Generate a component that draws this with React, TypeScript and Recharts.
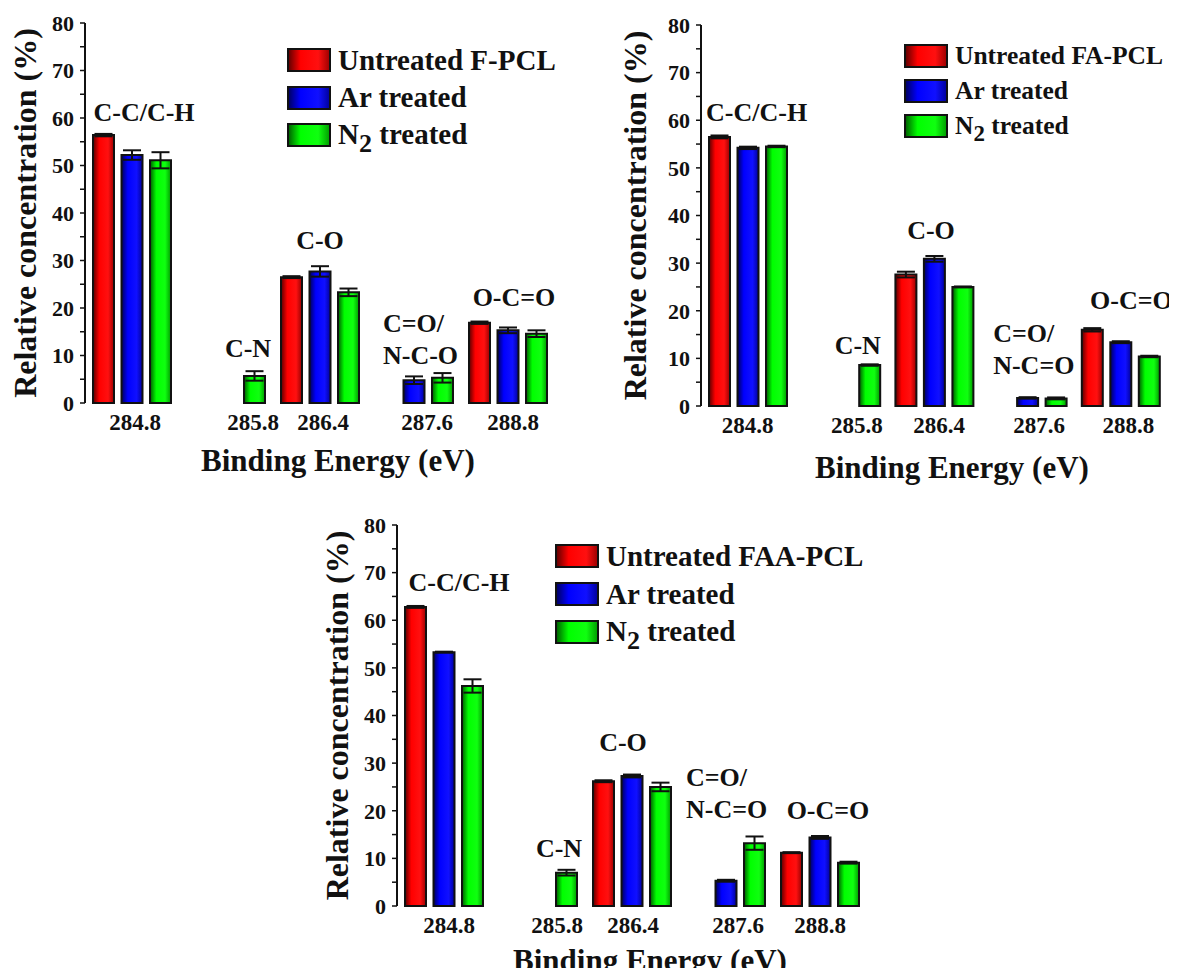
import React from 'react';
import { BarChart, Bar, XAxis, YAxis, ErrorBar, Legend, ReferenceDot, Label } from 'recharts';

const FONT = 'Liberation Serif';

const categories = ['284.8', '285.8', '286.4', '287.6', '288.8'];

// F-PCL
const fpclUntreated = [56.4, null, 26.5, null, 16.9];
const fpclUntreatedErr = [0.25, null, 0.2, null, 0.25];
const fpclAr = [52.2, null, 27.7, 4.8, 15.3];
const fpclArErr = [1.0, null, 1.1, 0.8, 0.6];
const fpclN2 = [51.1, 5.7, 23.3, 5.3, 14.6];
const fpclN2Err = [1.7, 1.0, 0.8, 1.0, 0.7];

// FA-PCL
const fapclUntreated = [56.5, null, 27.6, null, 16.0];
const fapclUntreatedErr = [0.3, null, 0.6, null, 0.35];
const fapclAr = [54.2, null, 30.9, 1.7, 13.4];
const fapclArErr = [0.25, null, 0.6, 0.15, 0.2];
const fapclN2 = [54.5, 8.6, 25.0, 1.6, 10.4];
const fapclN2Err = [0.15, 0.15, 0.1, 0.2, 0.15];

// FAA-PCL
const faapclUntreated = [62.8, null, 26.2, null, 11.2];
const faapclUntreatedErr = [0.2, null, 0.2, null, 0.1];
const faapclAr = [53.3, null, 27.3, 5.3, 14.4];
const faapclArErr = [0.1, null, 0.3, 0.2, 0.3];
const faapclN2 = [46.2, 7.0, 25.0, 13.2, 9.1];
const faapclN2Err = [1.4, 0.6, 0.9, 1.4, 0.2];

const yTicks = [0, 5, 10, 15, 20, 25, 30, 35, 40, 45, 50, 55, 60, 65, 70, 75, 80];
const rightTicks = [8, 16, 24, 32, 40, 48, 56, 64, 72];

const barColors = [
  ['#5a0000', '#ff0000', '#ff1010', '#9a0000'],
  ['#00005a', '#0000ff', '#1010ff', '#00009a'],
  ['#005a00', '#00ff00', '#10ff10', '#009a00'],
];

const buildRows = (u, ue, a, ae, n, ne) =>
  categories.map((c, i) => ({
    cat: c,
    pos: i + 0.5,
    u: u[i], ue: ue[i],
    a: a[i], ae: ae[i],
    n: n[i], ne: ne[i],
  }));

const panels = [
  {
    id: 'p1',
    sample: 'Untreated F-PCL',
    rows: buildRows(fpclUntreated, fpclUntreatedErr, fpclAr, fpclArErr, fpclN2, fpclN2Err),
    left: 85, top: 23, w: 488, h: 380,
    tickDx: [3, 27, 3, 13, 5],
    yTitleDx: 60,
    xTitleDy: 57,
    legend: { x: 202, y: 37, row: 37.5, font: 29 },
    notes: [
      { i: 0, y: 61.3, dx: 12, lines: ['C-C/C-H'] },
      { i: 1, y: 11.6, dx: 22, lines: ['C-N'] },
      { i: 2, y: 34.3, dx: 0, lines: ['C-O'] },
      { i: 3, y: 16.8, dx: -31, lines: ['C=O/', 'N-C-O'], start: true },
      { i: 4, y: 22.3, dx: 6, lines: ['O-C=O'] },
    ],
  },
  {
    id: 'p2',
    sample: 'Untreated FA-PCL',
    rows: buildRows(fapclUntreated, fapclUntreatedErr, fapclAr, fapclArErr, fapclN2, fapclN2Err),
    left: 701, top: 25, w: 484, h: 381,
    tickDx: [0, 16, 5, 12, 8],
    yTitleDx: 66,
    xTitleDy: 61,
    legend: { x: 203, y: 31, row: 35, font: 25.5 },
    notes: [
      { i: 0, y: 61.7, dx: 9, lines: ['C-C/C-H'] },
      { i: 1, y: 12.8, dx: 17, lines: ['C-N'] },
      { i: 2, y: 37.0, dx: -3, lines: ['C-O'] },
      { i: 3, y: 15.3, dx: -34, lines: ['C=O/', 'N-C=O'], start: true },
      { i: 4, y: 22.3, dx: 11, lines: ['O-C=O'] },
    ],
  },
  {
    id: 'p3',
    sample: 'Untreated FAA-PCL',
    rows: buildRows(faapclUntreated, faapclUntreatedErr, faapclAr, faapclArErr, faapclN2, faapclN2Err),
    left: 397, top: 525, w: 488, h: 381,
    tickDx: [5, 19, 1, 12, 0],
    yTitleDx: 60,
    xTitleDy: 54,
    legend: { x: 158, y: 31, row: 38, font: 29 },
    notes: [
      { i: 0, y: 68.0, dx: 15, lines: ['C-C/C-H'] },
      { i: 1, y: 12.2, dx: 21, lines: ['C-N'] },
      { i: 2, y: 34.4, dx: -9, lines: ['C-O'] },
      { i: 3, y: 27.1, dx: -40, lines: ['C=O/', 'N-C=O'], start: true },
      { i: 4, y: 20.2, dx: 8, lines: ['O-C=O'] },
    ],
  },
];

const ML = 85; // room for y axis + title
const MT = 20;
const MR = 10;
const XH = 80;

function CatTick({ x, y, payload, index, offsets }) {
  return (
    <text x={x + offsets[index]} y={y + 25} textAnchor="middle" fontSize={23} fontFamily={FONT} fontWeight="bold" fill="#111">
      {payload.value}
    </text>
  );
}

function LegendBox({ sample, id, row, font }) {
  const names = [sample, 'Ar treated', null];
  return (
    <div style={{ fontFamily: FONT, fontWeight: 'bold', fontSize: font, color: '#111', lineHeight: 1 }}>
      {names.map((nm, i) => (
        <div key={i} style={{ display: 'flex', alignItems: 'center', height: row, whiteSpace: 'nowrap' }}>
          <svg width={44} height={24} style={{ display: 'block' }}>
            <rect x={1} y={1} width={42} height={22} fill={`url(#${id}-g${i})`} stroke="#111" strokeWidth={2} />
          </svg>
          <span style={{ marginLeft: 7 }}>
            {nm !== null ? nm : (
              <>N<span style={{ fontSize: '0.9em', position: 'relative', top: '0.3em' }}>2</span> treated</>
            )}
          </span>
        </div>
      ))}
    </div>
  );
}

function Panel({ p }) {
  const W = ML + p.w + MR;
  const H = MT + p.h + XH;
  return (
    <div style={{ position: 'absolute', left: p.left - ML, top: p.top - MT, fontFamily: FONT }}>
      <BarChart
        width={W}
        height={H}
        data={p.rows}
        margin={{ top: MT, right: MR, bottom: 0, left: 0 }}
        barSize={21}
        barGap={7.5}
      >
        <defs>
          {barColors.map((c, i) => (
            <linearGradient key={i} id={`${p.id}-g${i}`} x1="0" y1="0" x2="1" y2="0">
              <stop offset="0%" stopColor={c[0]} />
              <stop offset="30%" stopColor={c[1]} />
              <stop offset="72%" stopColor={c[2]} />
              <stop offset="100%" stopColor={c[3]} />
            </linearGradient>
          ))}
        </defs>
        <XAxis
          xAxisId="bd"
          dataKey="pos"
          type="number"
          domain={[0, 5]}
          ticks={[1, 2, 3, 4, 5]}
          padding={{ left: 0, right: 18 }}
          height={0}
          tick={false}
          tickSize={6}
          allowDataOverflow
          axisLine={{ stroke: '#111', strokeWidth: 2 }}
          tickLine={{ stroke: '#111', strokeWidth: 2 }}
        />
        <XAxis
          xAxisId="cat"
          dataKey="cat"
          height={XH}
          padding={{ left: 0, right: 18 }}
          axisLine={false}
          tickLine={false}
          tickSize={0}
          interval={0}
          tick={(props) => <CatTick {...props} offsets={p.tickDx} />}
        >
          <Label
            content={({ viewBox }) => (
              <text
                x={viewBox.x + (viewBox.width + 18) / 2}
                y={viewBox.y + p.xTitleDy}
                textAnchor="middle"
                dominantBaseline="central"
                fontSize={31}
                fontFamily={FONT}
                fontWeight="bold"
                fill="#111"
              >
                Binding Energy (eV)
              </text>
            )}
          />
        </XAxis>
        <XAxis
          xAxisId="top"
          orientation="top"
          dataKey="pos"
          type="number"
          domain={[0, 5]}
          ticks={[1, 2, 3, 4]}
          height={0}
          mirror
          tick={false}
          tickSize={5}
          allowDataOverflow
          axisLine={{ stroke: '#111', strokeWidth: 2 }}
          tickLine={{ stroke: '#111', strokeWidth: 1.5 }}
        />
        <YAxis
          yAxisId="l"
          width={ML}
          domain={[0, 80]}
          ticks={yTicks}
          interval={0}
          tickSize={5}
          tickMargin={6}
          tickFormatter={(v) => (v % 10 === 0 ? String(v) : '')}
          tick={{ fontSize: 22, fontFamily: FONT, fontWeight: 'bold', fill: '#111' }}
          axisLine={{ stroke: '#111', strokeWidth: 2 }}
          tickLine={{ stroke: '#111', strokeWidth: 1.5 }}
        >
          <Label
            content={({ viewBox }) => {
              const cx = viewBox.x + viewBox.width - p.yTitleDx;
              const cy = viewBox.y + viewBox.height / 2;
              return (
                <text
                  x={cx}
                  y={cy}
                  transform={`rotate(-90 ${cx} ${cy})`}
                  textAnchor="middle"
                  dominantBaseline="central"
                  fontSize={32}
                  fontFamily={FONT}
                  fontWeight="bold"
                  fill="#111"
                >
                  Relative concentration (%)
                </text>
              );
            }}
          />
        </YAxis>
        <YAxis
          yAxisId="r"
          orientation="right"
          width={0}
          domain={[0, 80]}
          ticks={rightTicks}
          mirror
          tick={false}
          tickSize={5}
          axisLine={{ stroke: '#111', strokeWidth: 2 }}
          tickLine={{ stroke: '#111', strokeWidth: 1.5 }}
        />
        <Legend
          layout="horizontal"
          verticalAlign="middle"
          content={() => <LegendBox sample={p.sample} id={p.id} row={p.legend.row} font={p.legend.font} />}
          wrapperStyle={{
            left: ML + p.legend.x,
            top: MT + p.legend.y - p.legend.row / 2,
            width: 'auto',
          }}
        />
        {['u', 'a', 'n'].map((k, i) => (
          <Bar
            key={k}
            xAxisId="cat"
            yAxisId="l"
            dataKey={k}
            name={i === 0 ? p.sample : i === 1 ? 'Ar treated' : 'N2 treated'}
            fill={`url(#${p.id}-g${i})`}
            stroke="#111"
            strokeWidth={2}
            isAnimationActive={false}
          >
            <ErrorBar dataKey={`${k}e`} width={9} stroke="#111" strokeWidth={2} direction="y" />
          </Bar>
        ))}
        {p.notes.map((n, j) => (
          <ReferenceDot
            key={j}
            xAxisId="cat"
            yAxisId="l"
            x={categories[n.i]}
            y={n.y}
            ifOverflow="visible"
            shape={(sp) => (
              <text
                x={sp.cx + n.dx}
                y={sp.cy}
                textAnchor={n.start ? 'start' : 'middle'}
                dominantBaseline="central"
                fontSize={26}
                fontFamily={FONT}
                fontWeight="bold"
                fill="#111"
              >
                {n.lines.map((ln, k) => (
                  <tspan key={k} x={sp.cx + n.dx} dy={k === 0 ? 0 : 32}>
                    {ln}
                  </tspan>
                ))}
              </text>
            )}
          />
        ))}
      </BarChart>
    </div>
  );
}

export default function App() {
  return (
    <div
      style={{
        position: 'relative',
        width: 1177,
        height: 976,
        margin: -8,
        overflow: 'hidden',
        background: '#fff',
        fontFamily: FONT,
      }}
    >
      {panels.map((p) => (
        <Panel key={p.id} p={p} />
      ))}
    </div>
  );
}
